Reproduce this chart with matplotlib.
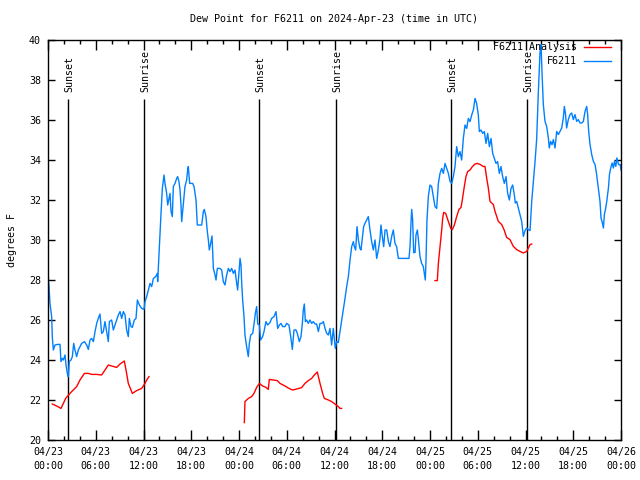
import matplotlib
matplotlib.use('Agg')
import matplotlib.pyplot as plt
from matplotlib.ticker import MultipleLocator
from datetime import datetime, timedelta

# hours since 2024-04-23 00:00 UTC
obs_hours = [
    0.04, 0.13, 0.25, 0.46, 0.54, 0.67, 0.88, 1.21, 1.51, 1.63, 1.80, 1.93, 2.14, 2.26, 2.43,
    2.55, 2.68, 2.89, 3.06, 3.23, 3.39, 3.60, 3.81, 4.02, 4.23, 4.57, 4.86, 5.07, 5.28, 5.49,
    5.70, 5.91, 6.12, 6.32, 6.53, 6.74, 6.95, 7.16, 7.37, 7.58, 7.71, 8.00, 8.21, 8.42, 8.63,
    8.84, 9.05, 9.26, 9.47, 9.68, 9.88, 10.09, 10.22, 10.43, 10.60, 10.85, 11.06, 11.23, 11.48,
    11.77, 12.06, 12.19, 12.40, 12.61, 12.82, 13.03, 13.24, 13.53, 13.74, 13.78, 13.95, 14.07,
    14.20, 14.37, 14.58, 14.70, 14.91, 15.04, 15.20, 15.33, 15.46, 15.62, 15.75, 15.96, 16.17,
    16.29, 16.46, 16.59, 16.71, 16.80, 17.01, 17.21, 17.42, 17.55, 17.63, 17.80, 18.18, 18.35,
    18.60, 18.76, 19.10, 19.31, 19.52, 19.64, 19.85, 20.02, 20.15, 20.27, 20.44, 20.61, 20.78,
    20.99, 21.11, 21.28, 21.61, 21.82, 22.03, 22.24, 22.45, 22.66, 22.87, 23.08, 23.29, 23.50,
    23.71, 23.83, 23.96, 24.13, 24.25, 24.34, 24.46, 24.63, 24.75, 24.96, 25.17, 25.30, 25.47,
    25.72, 25.93, 26.05, 26.22, 26.35, 26.56, 26.72, 26.97, 27.14, 27.39, 27.60, 27.89, 28.10,
    28.40, 28.65, 28.86, 29.07, 29.28, 29.49, 29.78, 29.99, 30.28, 30.53, 30.70, 30.91, 31.16,
    31.33, 31.58, 31.79, 31.96, 32.08, 32.21, 32.34, 32.50, 32.71, 32.92, 33.13, 33.34, 33.55,
    33.76, 33.97, 34.18, 34.39, 34.60, 34.81, 35.02, 35.23, 35.43, 35.64, 35.85, 35.98, 36.10,
    36.27, 36.48, 36.69, 36.90, 37.11, 37.32, 37.53, 37.74, 37.95, 38.16, 38.37, 38.49, 38.66,
    38.83, 39.00, 39.20, 39.33, 39.50, 39.66, 39.83, 40.04, 40.25, 40.46, 40.67, 40.88, 41.09,
    41.30, 41.51, 41.72, 41.84, 42.01, 42.18, 42.35, 42.56, 42.77, 42.97, 43.18, 43.39, 43.60,
    43.81, 44.02, 45.36, 45.49, 45.61, 45.70, 45.82, 45.95, 46.12, 46.24, 46.41, 46.53, 46.74,
    46.95, 47.16, 47.29, 47.41, 47.50, 47.62, 47.79, 48.00, 48.21, 48.42, 48.63, 48.84, 49.05,
    49.26, 49.47, 49.68, 49.89, 50.10, 50.31, 50.52, 50.73, 50.93, 51.14, 51.35, 51.56, 51.77,
    51.98, 52.19, 52.40, 52.61, 52.82, 53.03, 53.24, 53.45, 53.66, 53.86, 54.07, 54.20, 54.41,
    54.62, 54.83, 55.04, 55.25, 55.46, 55.67, 55.88, 56.09, 56.29, 56.50, 56.71, 56.92, 57.13,
    57.34, 57.55, 57.76, 57.97, 58.18, 58.39, 58.60, 58.72, 58.89, 59.10, 59.31, 59.52, 59.73,
    59.94, 60.15, 60.36, 60.57, 60.78, 60.99, 61.20, 61.40, 61.61, 61.82, 61.95, 62.07, 62.24,
    62.45, 62.66, 62.87, 62.99, 63.16, 63.33, 63.50, 63.71, 63.92, 64.13, 64.34, 64.55, 64.75,
    64.88, 65.01, 65.17, 65.38, 65.59, 65.80, 66.01, 66.22, 66.43, 66.64, 66.85, 67.06, 67.27,
    67.48, 67.69, 67.81, 67.94, 68.11, 68.32, 68.53, 68.74, 68.94, 69.15, 69.36, 69.49, 69.66,
    69.79, 69.91, 70.08, 70.21, 70.42, 70.55, 70.71, 70.88, 71.05, 71.18, 71.35, 71.48, 71.69,
    71.90, 72.0,
]
obs_dewpt = [
    28.17, 27.67, 26.83, 26.17, 25.17, 24.50, 24.75, 24.78, 24.78, 23.92, 24.08, 24.00, 24.25, 23.75, 23.33,
    23.17, 23.92, 24.00, 24.17, 24.83, 24.50, 24.17, 24.50, 24.67, 24.83, 24.92, 24.75, 24.53, 25.00, 25.08,
    24.92, 25.42, 25.83, 26.08, 26.30, 25.33, 25.42, 25.92, 25.42, 24.92, 25.92, 26.00, 25.50, 25.75, 26.00,
    26.25, 26.42, 26.08, 26.42, 26.25, 25.50, 25.17, 26.08, 25.67, 25.63, 26.00, 26.08, 27.00, 26.75,
    26.58, 26.53, 26.92, 27.17, 27.50, 27.83, 27.67, 28.08, 28.17, 28.33, 27.92, 29.33, 30.25,
    31.33, 32.58, 33.25, 32.83, 32.33, 31.75, 32.08, 32.33, 31.42, 31.17, 32.67, 32.83, 33.08,
    33.17, 32.92, 32.50, 31.75, 30.92, 31.83, 32.67, 33.00, 33.50, 33.67, 32.83, 32.83, 32.67,
    32.00, 30.75, 30.75, 30.75, 31.42, 31.53, 31.17, 30.42, 30.00, 29.50, 29.83, 30.20, 28.58,
    28.25, 28.00, 28.58, 28.58, 28.50, 27.92, 27.75, 28.25, 28.58, 28.42, 28.58, 28.33, 28.50,
    27.83, 27.50, 28.17, 29.08, 28.75, 27.83, 27.00, 26.17, 25.25, 24.67, 24.17, 24.83, 25.25,
    25.33, 25.92, 26.33, 26.67, 25.80, 25.75, 25.00, 25.17, 25.42, 25.92, 25.75, 25.87, 26.08,
    26.17, 26.42, 25.58, 25.75, 25.83, 25.67, 25.67, 25.83, 25.75, 25.08, 24.53, 25.50, 25.50,
    25.33, 24.92, 25.17, 25.83, 26.50, 26.80, 25.92, 26.00, 25.83, 26.00, 25.83, 25.92, 25.80,
    25.80, 25.42, 25.83, 25.83, 25.92, 25.58, 25.33, 25.25, 25.58, 24.75, 25.58, 25.08, 24.58,
    24.92, 24.87, 25.42, 26.00, 26.50, 27.08, 27.67, 28.17, 29.00, 29.67, 29.92, 29.67, 29.50,
    30.67, 30.00, 29.58, 29.50, 30.08, 30.67, 30.83, 31.00, 31.17, 30.50, 29.92, 29.50, 30.00,
    29.08, 29.50, 30.08, 30.75, 30.17, 29.67, 30.50, 30.50, 29.92, 29.67, 30.17, 30.50, 29.83,
    29.67, 29.08, 29.08, 29.67, 30.83, 31.53, 31.00, 29.37, 29.37, 30.25, 30.50, 30.08, 29.17,
    28.83, 28.67, 28.33, 28.00, 29.00, 31.00, 32.17, 32.75, 32.67, 32.17, 31.67, 31.58, 32.83,
    33.33, 33.58, 33.33, 33.83, 33.58, 33.33, 32.92, 32.83, 33.17, 33.67, 34.67, 34.17, 34.42,
    34.00, 35.08, 35.75, 35.58, 36.08, 35.92, 36.25, 36.50, 37.08, 36.83, 36.25, 35.42, 35.50,
    35.33, 35.42, 34.83, 35.33, 34.67, 35.08, 34.33, 34.08, 33.83, 33.92, 33.33, 33.67, 33.17,
    32.83, 33.17, 32.33, 32.00, 32.58, 32.75, 32.25, 31.85, 31.93, 31.60, 31.27, 30.93, 30.18,
    30.47, 30.60, 30.52, 30.47, 31.93, 32.93, 33.93, 35.02, 37.35, 39.35, 39.77, 38.43, 36.77,
    35.93, 35.68, 35.10, 34.60, 34.93, 34.77, 35.02, 34.60, 35.43, 35.27, 35.43, 35.60, 36.10,
    36.68, 36.35, 35.60, 36.02, 36.27, 36.35, 36.02, 36.27, 35.93, 36.02, 35.85, 35.85, 35.93,
    36.43, 36.68, 36.27, 35.43, 34.77, 34.27, 33.93, 33.77, 33.27, 32.60, 31.93, 31.10, 30.85,
    30.60, 31.27, 31.60, 31.93, 32.60, 33.27, 33.60, 33.85, 33.60, 33.93, 33.68, 34.10, 33.77,
    33.77, 33.50,
]

# analysis, three separate runs
ana1_hours = [0.54, 1.09, 1.63, 1.93, 2.22, 2.47, 2.97, 3.60, 4.02, 4.57, 5.07, 5.49, 6.12, 6.74,
              7.16, 7.58, 8.00, 8.63, 9.05, 9.59, 9.88, 10.09, 10.60, 11.14, 11.77, 12.19, 12.40, 12.69]
ana1_dewpt = [21.80, 21.70, 21.58, 21.83, 22.08, 22.20, 22.42, 22.67, 23.00, 23.33, 23.33, 23.28, 23.28, 23.25,
              23.50, 23.75, 23.70, 23.63, 23.80, 23.95, 23.33, 22.83, 22.33, 22.47, 22.58, 22.83, 23.00, 23.17]
ana2_hours = [24.67, 24.75, 25.17, 25.59, 25.88, 26.22, 26.56, 26.97, 27.39, 27.68, 27.81, 28.31, 28.82,
              29.15, 29.78, 30.32, 30.74, 31.25, 31.87, 32.29, 32.71, 33.13, 33.42, 33.84, 34.18, 34.51,
              34.72, 35.23, 35.64, 36.06, 36.48, 36.69, 36.90]
ana2_dewpt = [20.87, 21.92, 22.08, 22.17, 22.33, 22.63, 22.83, 22.70, 22.63, 22.53, 23.03, 23.00, 22.97,
              22.83, 22.70, 22.57, 22.50, 22.55, 22.62, 22.83, 22.97, 23.08, 23.23, 23.40, 22.83, 22.33,
              22.08, 22.00, 21.92, 21.80, 21.67, 21.58, 21.58]
ana3_hours = [48.63, 48.92, 49.05, 49.26, 49.47, 49.59, 49.72, 49.97, 50.31, 50.61, 50.82, 51.06, 51.35,
              51.64, 51.90, 52.06, 52.31, 52.52, 52.73, 53.03, 53.32, 53.66, 53.95, 54.29, 54.71, 54.91,
              55.12, 55.33, 55.54, 55.96, 56.17, 56.38, 56.59, 57.01, 57.30, 57.63, 58.05, 58.47, 58.89,
              59.31, 59.73, 60.15, 60.36, 60.57, 60.78]
ana3_dewpt = [27.97, 27.97, 28.83, 29.67, 30.50, 31.08, 31.38, 31.33, 30.92, 30.58, 30.53, 30.75, 31.17,
              31.53, 31.63, 32.00, 32.67, 33.17, 33.42, 33.50, 33.67, 33.80, 33.83, 33.78, 33.67, 33.68,
              33.10, 32.60, 31.93, 31.77, 31.43, 31.18, 30.93, 30.77, 30.52, 30.13, 30.02, 29.68, 29.52,
              29.43, 29.35, 29.43, 29.60, 29.77, 29.80]

sun_hours = [2.55, 12.1, 26.55, 36.23, 50.68, 60.23]
sun_names = ['Sunset', 'Sunrise', 'Sunset', 'Sunrise', 'Sunset', 'Sunrise']

start = datetime(2024, 4, 23)
tick_hours = list(range(0, 73, 6))
tick_labels = [(start + timedelta(hours=h)).strftime('%m/%d\n%H:%M') for h in tick_hours]

FS = 7.2
plt.rcParams['font.family'] = ['DejaVu Sans Mono']
plt.rcParams['font.size'] = FS

fig = plt.figure(figsize=(6.4, 4.8), dpi=100)
ax = fig.add_axes([48 / 640, 40 / 480, 573 / 640, 400 / 480])

for h, name in zip(sun_hours, sun_names):
    ax.vlines(h, 20, 37.05, color='black', lw=1.0)
    ax.text(h + 0.1, 37.4, name, rotation=90, ha='center', va='bottom', fontsize=FS)

red = '#ff0000'
blue = '#0080ff'
ax.plot(ana1_hours, ana1_dewpt, color=red, lw=1.0, label='F6211 Analysis')
ax.plot(ana2_hours, ana2_dewpt, color=red, lw=1.0)
ax.plot(ana3_hours, ana3_dewpt, color=red, lw=1.0)
ax.plot(obs_hours, obs_dewpt, color=blue, lw=1.0, label='F6211')

ax.set_xlim(0, 72)
ax.set_ylim(20, 40)
ax.set_xticks(tick_hours)
ax.set_xticklabels(tick_labels, linespacing=1.5)
ax.xaxis.set_minor_locator(MultipleLocator(2))
ax.yaxis.set_major_locator(MultipleLocator(2))
ax.tick_params(which='both', direction='in', top=True, right=True, width=1)
ax.tick_params(which='major', axis='x', length=7, pad=5)
ax.tick_params(which='minor', axis='x', length=3)
ax.tick_params(which='major', axis='y', length=5, pad=5)
for s in ax.spines.values():
    s.set_linewidth(1)

ax.set_title('Dew Point for F6211 on 2024-Apr-23 (time in UTC)', fontsize=FS, pad=13)
ax.set_ylabel('degrees F', labelpad=9)

ax.legend(loc='upper right', bbox_to_anchor=(0.987, 1.0), frameon=False, markerfirst=False,
          handlelength=2.7, handletextpad=0.7, borderaxespad=0, borderpad=0.25,
          labelspacing=0.4, fontsize=FS)

fig.savefig('out.png', dpi=100)
